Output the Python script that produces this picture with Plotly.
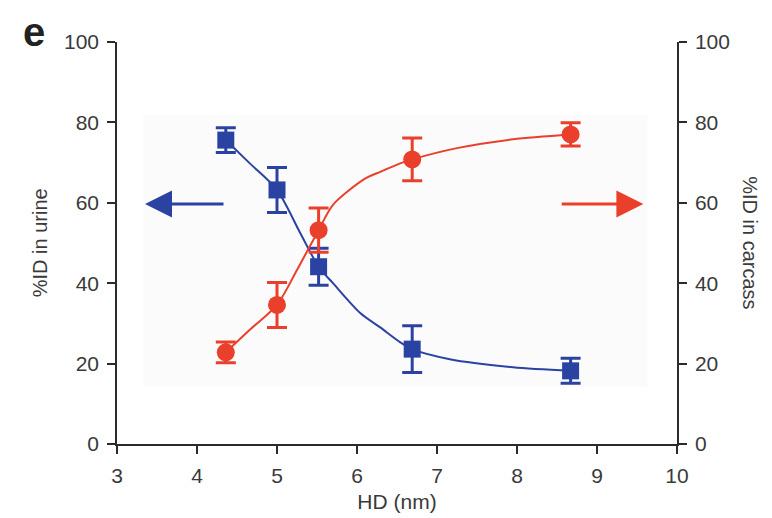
import plotly.graph_objects as go

# Measured points
hd = [4.36, 5.0, 5.52, 6.69, 8.67]
urine = [75.6, 63.2, 44.1, 23.6, 18.2]
urine_err = [3.1, 5.6, 4.6, 5.8, 3.1]
carcass = [22.8, 34.6, 53.2, 70.8, 77.0]
carcass_err = [2.6, 5.6, 5.5, 5.3, 2.9]

# Fitted curves
urine_curve_x = [4.36, 4.66, 5.0, 5.29, 5.52, 5.7, 6.04, 6.29, 6.54, 6.69, 7.16, 7.95, 8.67]
urine_curve_y = [75.6, 69.8, 63.2, 52.5, 44.1, 40.0, 32.6, 29.0, 25.3, 23.6, 21.1, 19.1, 18.2]
carcass_curve_x = [4.36, 4.66, 5.0, 5.25, 5.52, 5.7, 6.1, 6.29, 6.54, 6.69, 7.25, 7.95, 8.67]
carcass_curve_y = [22.8, 28.4, 34.6, 43.3, 53.2, 59.5, 66.0, 67.7, 69.8, 70.8, 73.6, 75.8, 77.0]

x_ticks = [3, 4, 5, 6, 7, 8, 9, 10]
y_ticks = [0, 20, 40, 60, 80, 100]

BLUE = "#2a43a3"
RED = "#ea3f2b"
AX = "#2b2b2b"
TXT = "#3a3a3a"
FONT = "Liberation Sans, Arial, sans-serif"

fig = go.Figure()

fig.add_trace(go.Scatter(x=urine_curve_x, y=urine_curve_y, mode="lines",
                         line=dict(color=BLUE, width=2, shape="spline", smoothing=0.8),
                         hoverinfo="skip", showlegend=False))
fig.add_trace(go.Scatter(x=carcass_curve_x, y=carcass_curve_y, mode="lines", yaxis="y2",
                         line=dict(color=RED, width=2, shape="spline", smoothing=0.8),
                         hoverinfo="skip", showlegend=False))

fig.add_trace(go.Scatter(x=hd, y=urine, mode="markers",
                         marker=dict(symbol="square", size=17, color=BLUE),
                         error_y=dict(type="data", array=urine_err, color=BLUE,
                                      thickness=3, width=10),
                         showlegend=False))
fig.add_trace(go.Scatter(x=hd, y=carcass, mode="markers", yaxis="y2",
                         marker=dict(symbol="circle", size=18, color=RED),
                         error_y=dict(type="data", array=carcass_err, color=RED,
                                      thickness=3, width=10),
                         showlegend=False))

axis_common = dict(showline=True, linecolor=AX, linewidth=1.5, ticks="outside",
                   ticklen=8, tickwidth=1.5, tickcolor=AX, showgrid=False, zeroline=False,
                   ticklabelstandoff=4,
                   tickfont=dict(family=FONT, size=21, color=TXT))

fig.update_layout(
    width=772, height=518,
    margin=dict(l=109, r=103, t=34, b=82),
    paper_bgcolor="white", plot_bgcolor="white",
    font=dict(family=FONT, color=TXT),
    xaxis=dict(range=[3, 10], tickvals=x_ticks, **axis_common,
               title=dict(text="HD (nm)", font=dict(family=FONT, size=21, color=TXT),
                          standoff=8)),
    yaxis=dict(range=[0, 100], tickvals=y_ticks, **axis_common),
    yaxis2=dict(range=[0, 100], tickvals=y_ticks, overlaying="y", side="right", **axis_common),
    shapes=[dict(type="rect", xref="x", yref="y", x0=3.33, x1=9.63, y0=14.2, y1=81.8,
                 fillcolor="#fbfbfb", line=dict(width=0), layer="below")],
    annotations=[
        dict(text="<b>e</b>", xref="paper", yref="paper", x=-0.172, y=1.085,
             xanchor="left", yanchor="top", showarrow=False,
             font=dict(family=FONT, size=40, color="#222222")),
        dict(text="%ID in urine", xref="paper", yref="paper", x=-0.137, y=0.5,
             xanchor="center", yanchor="middle", textangle=-90, showarrow=False,
             font=dict(family=FONT, size=20, color=TXT)),
        dict(text="%ID in carcass", xref="paper", yref="paper", x=1.13, y=0.5,
             xanchor="center", yanchor="middle", textangle=90, showarrow=False,
             font=dict(family=FONT, size=20, color=TXT)),
        dict(x=3.35, y=59.7, ax=4.35, ay=59.7, xref="x", yref="y", axref="x", ayref="y",
             text="", showarrow=True, arrowhead=2, arrowsize=1.8, arrowwidth=3,
             arrowcolor=BLUE),
        dict(x=9.58, y=59.7, ax=8.54, ay=59.7, xref="x", yref="y", axref="x", ayref="y",
             text="", showarrow=True, arrowhead=2, arrowsize=1.8, arrowwidth=3,
             arrowcolor=RED),
    ],
)

fig.write_html("out.html")
